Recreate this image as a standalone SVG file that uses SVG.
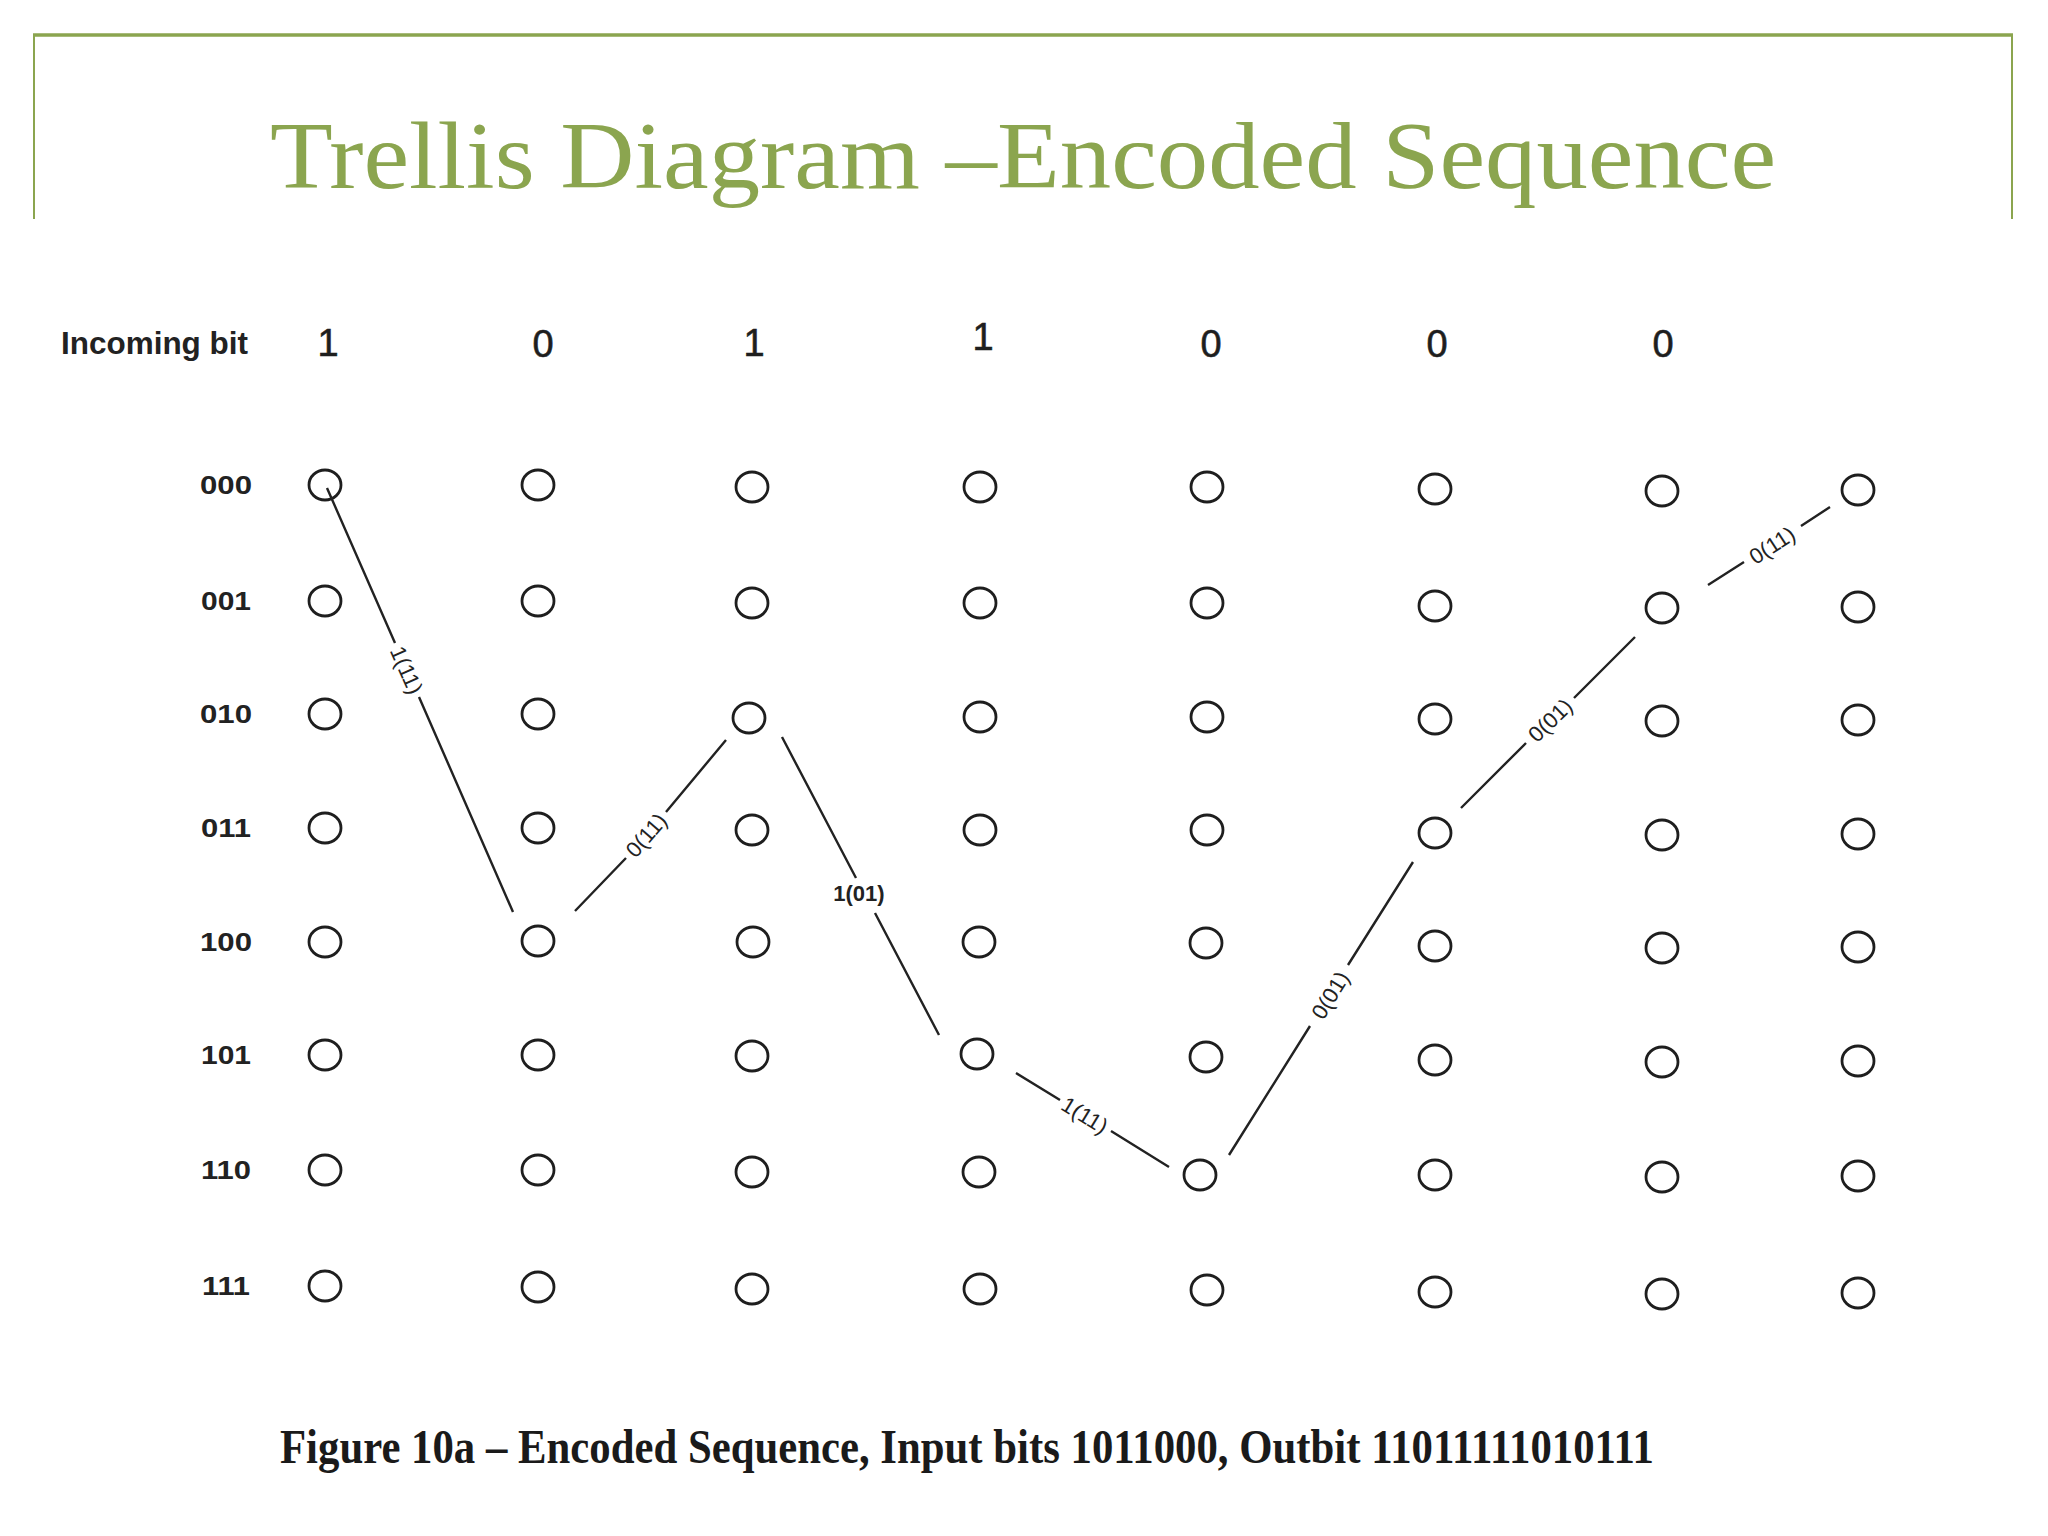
<svg xmlns="http://www.w3.org/2000/svg" width="2048" height="1536" viewBox="0 0 2048 1536">
<style>
.frame{stroke:#8BA54F;fill:none}
.title{font-family:"Liberation Serif","Times New Roman",serif;font-size:96px;fill:#8BA54F}
.hdr{font-family:"Liberation Sans",Arial,sans-serif;font-weight:bold;fill:#222}
.bit{font-family:"Liberation Sans",Arial,sans-serif;font-size:38px;fill:#1e1e1e;text-anchor:middle;stroke:#1e1e1e;stroke-width:0.6}
.row{font-family:"Liberation Sans",Arial,sans-serif;font-size:25px;font-weight:bold;fill:#222;text-anchor:middle}
.node{fill:none;stroke:#1e1e1e;stroke-width:2.8}
.edge{stroke:#222;stroke-width:2.4;fill:none}
.lbl{font-family:"Liberation Sans",Arial,sans-serif;font-size:22px;fill:#222;text-anchor:middle}
.cap{font-family:"Liberation Serif","Times New Roman",serif;font-size:48px;font-weight:bold;fill:#1a1a1a}
</style>
<defs>
<ellipse id="c" cx="0" cy="0" rx="16" ry="15"/>
</defs>
<rect width="2048" height="1536" fill="#ffffff"/>
<g id="frame">
<line class="frame" x1="33" y1="35" x2="2013" y2="35" stroke-width="3.5"/>
<line class="frame" x1="34" y1="35" x2="34" y2="219" stroke-width="2"/>
<line class="frame" x1="2012" y1="35" x2="2012" y2="219" stroke-width="2"/>
</g>
<text class="title" x="270" y="188" textLength="1506" lengthAdjust="spacingAndGlyphs">Trellis Diagram –Encoded Sequence</text>
<g id="header">
<text class="hdr" x="61" y="354" font-size="31" textLength="187" lengthAdjust="spacingAndGlyphs">Incoming bit</text>
<text class="bit" x="328" y="356">1</text>
<text class="bit" x="543" y="357">0</text>
<text class="bit" x="754" y="356">1</text>
<text class="bit" x="983" y="350">1</text>
<text class="bit" x="1211" y="357">0</text>
<text class="bit" x="1437" y="357">0</text>
<text class="bit" x="1663" y="357">0</text>
</g>
<g id="row-labels">
<text class="row" x="226" y="494" textLength="52" lengthAdjust="spacingAndGlyphs">000</text>
<text class="row" x="226" y="610" textLength="50" lengthAdjust="spacingAndGlyphs">001</text>
<text class="row" x="226" y="723" textLength="52" lengthAdjust="spacingAndGlyphs">010</text>
<text class="row" x="226" y="837" textLength="50" lengthAdjust="spacingAndGlyphs">011</text>
<text class="row" x="226" y="951" textLength="52" lengthAdjust="spacingAndGlyphs">100</text>
<text class="row" x="226" y="1064" textLength="50" lengthAdjust="spacingAndGlyphs">101</text>
<text class="row" x="226" y="1179" textLength="50" lengthAdjust="spacingAndGlyphs">110</text>
<text class="row" x="226" y="1295" textLength="48" lengthAdjust="spacingAndGlyphs">111</text>
</g>
<g id="nodes">
<g id="t0"><use href="#c" class="node" x="325" y="485"/><use href="#c" class="node" x="325" y="601"/><use href="#c" class="node" x="325" y="714"/><use href="#c" class="node" x="325" y="828"/><use href="#c" class="node" x="325" y="942"/><use href="#c" class="node" x="325" y="1055"/><use href="#c" class="node" x="325" y="1170"/><use href="#c" class="node" x="325" y="1286"/></g>
<g id="t1"><use href="#c" class="node" x="538" y="485"/><use href="#c" class="node" x="538" y="601"/><use href="#c" class="node" x="538" y="714"/><use href="#c" class="node" x="538" y="828"/><use href="#c" class="node" x="538" y="941"/><use href="#c" class="node" x="538" y="1055"/><use href="#c" class="node" x="538" y="1170"/><use href="#c" class="node" x="538" y="1287"/></g>
<g id="t2"><use href="#c" class="node" x="752" y="487"/><use href="#c" class="node" x="752" y="603"/><use href="#c" class="node" x="749" y="718"/><use href="#c" class="node" x="752" y="830"/><use href="#c" class="node" x="753" y="942"/><use href="#c" class="node" x="752" y="1056"/><use href="#c" class="node" x="752" y="1172"/><use href="#c" class="node" x="752" y="1289"/></g>
<g id="t3"><use href="#c" class="node" x="980" y="487"/><use href="#c" class="node" x="980" y="603"/><use href="#c" class="node" x="980" y="717"/><use href="#c" class="node" x="980" y="830"/><use href="#c" class="node" x="979" y="942"/><use href="#c" class="node" x="977" y="1054"/><use href="#c" class="node" x="979" y="1172"/><use href="#c" class="node" x="980" y="1289"/></g>
<g id="t4"><use href="#c" class="node" x="1207" y="487"/><use href="#c" class="node" x="1207" y="603"/><use href="#c" class="node" x="1207" y="717"/><use href="#c" class="node" x="1207" y="830"/><use href="#c" class="node" x="1206" y="943"/><use href="#c" class="node" x="1206" y="1057"/><use href="#c" class="node" x="1200" y="1175"/><use href="#c" class="node" x="1207" y="1290"/></g>
<g id="t5"><use href="#c" class="node" x="1435" y="489"/><use href="#c" class="node" x="1435" y="606"/><use href="#c" class="node" x="1435" y="719"/><use href="#c" class="node" x="1435" y="833"/><use href="#c" class="node" x="1435" y="946"/><use href="#c" class="node" x="1435" y="1060"/><use href="#c" class="node" x="1435" y="1175"/><use href="#c" class="node" x="1435" y="1292"/></g>
<g id="t6"><use href="#c" class="node" x="1662" y="491"/><use href="#c" class="node" x="1662" y="608"/><use href="#c" class="node" x="1662" y="721"/><use href="#c" class="node" x="1662" y="835"/><use href="#c" class="node" x="1662" y="948"/><use href="#c" class="node" x="1662" y="1062"/><use href="#c" class="node" x="1662" y="1177"/><use href="#c" class="node" x="1662" y="1294"/></g>
<g id="t7"><use href="#c" class="node" x="1858" y="490"/><use href="#c" class="node" x="1858" y="607"/><use href="#c" class="node" x="1858" y="720"/><use href="#c" class="node" x="1858" y="834"/><use href="#c" class="node" x="1858" y="947"/><use href="#c" class="node" x="1858" y="1061"/><use href="#c" class="node" x="1858" y="1176"/><use href="#c" class="node" x="1858" y="1293"/></g>
</g>
<g id="connectors">
<path class="edge" d="M327 488 L395 643 M419 697 L513 912"/>
<path class="edge" d="M575 911 L626 858 M666 812 L726 740"/>
<path class="edge" d="M782 737 L856 878 M875 913 L939 1035"/>
<path class="edge" d="M1016 1073 L1060 1100 M1111 1131 L1169 1167"/>
<path class="edge" d="M1229 1155 L1310 1026 M1348 965 L1413 862"/>
<path class="edge" d="M1461 808 L1526 743 M1574 698 L1635 637"/>
<path class="edge" d="M1708 585 L1744 562 M1801 526 L1830 507"/>
<text class="lbl" transform="translate(407,670) rotate(66)" dy="8">1(11)</text>
<text class="lbl" transform="translate(646,835) rotate(-49)" dy="8">0(11)</text>
<text class="lbl" x="859" y="901" font-weight="bold">1(01)</text>
<text class="lbl" transform="translate(1085,1115) rotate(31.5)" dy="8">1(11)</text>
<text class="lbl" transform="translate(1330,995) rotate(-58)" dy="8">0(01)</text>
<text class="lbl" transform="translate(1550,720) rotate(-44)" dy="8">0(01)</text>
<text class="lbl" transform="translate(1772,545) rotate(-33)" dy="8">0(11)</text>
</g>
<text class="cap" x="280" y="1463" textLength="1374" lengthAdjust="spacingAndGlyphs">Figure 10a – Encoded Sequence, Input bits 1011000, Outbit 11011111010111</text>
</svg>
